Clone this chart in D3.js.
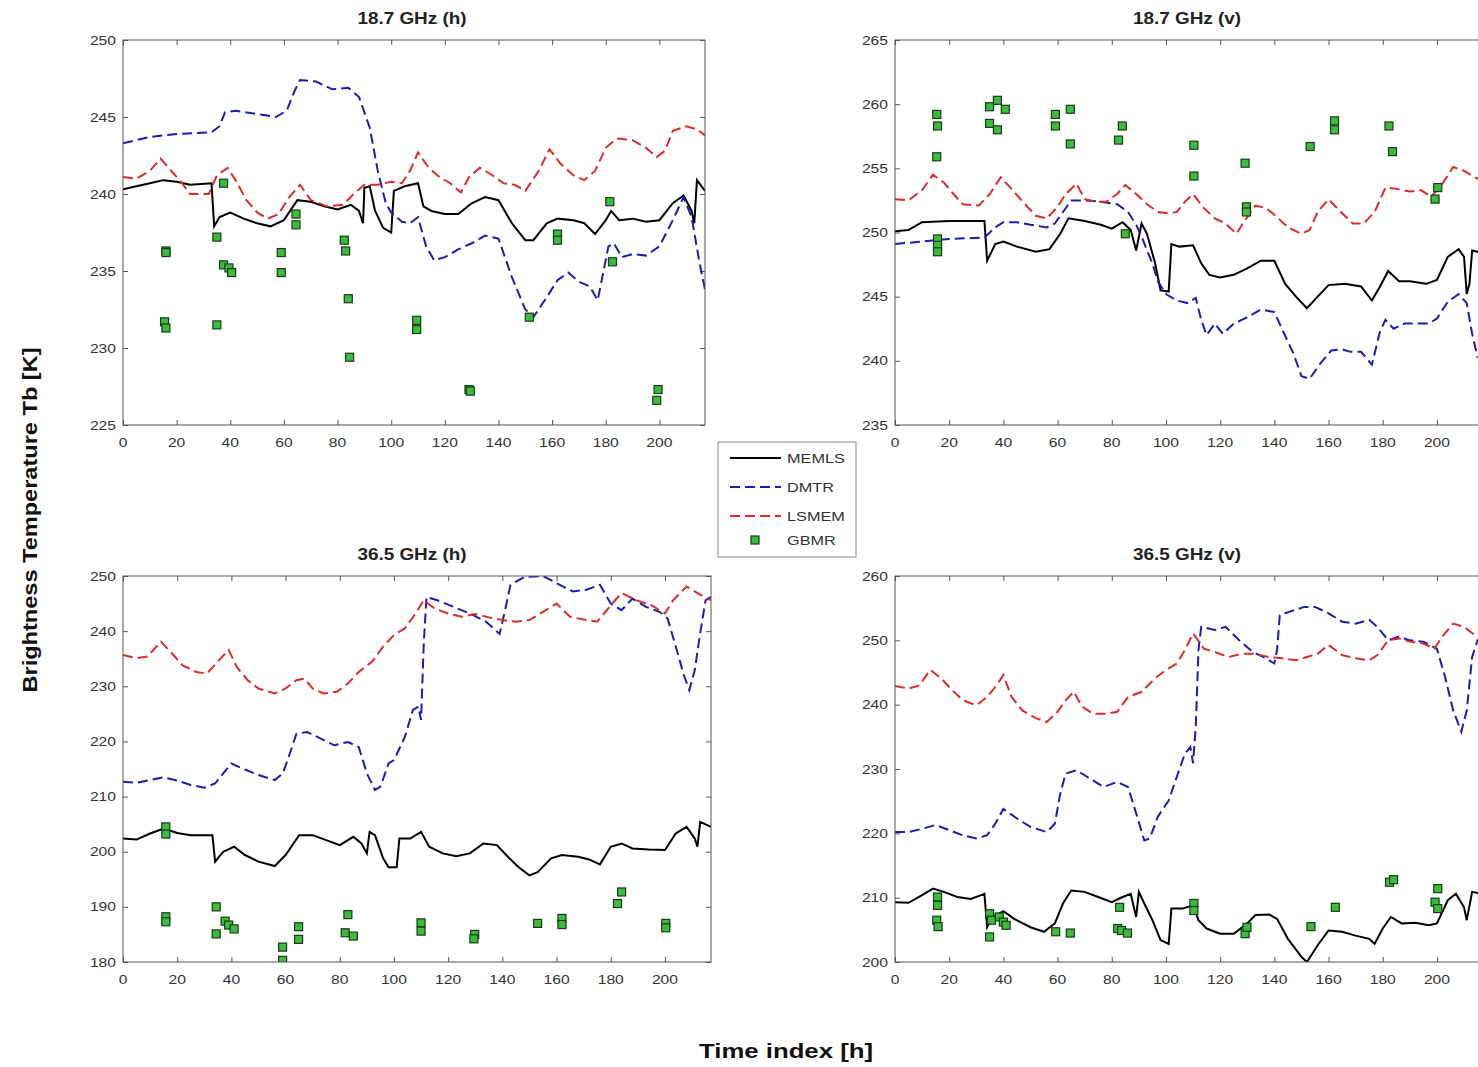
<!doctype html>
<html lang="en">
<head>
  <meta charset="utf-8">
  <title>Brightness temperature, four channels</title>
  <style>
    body { margin: 0; background: #fff; }
    svg { display: block; font-family: "Liberation Sans", Arial, sans-serif; }
    .frame { fill: none; stroke: #555; stroke-width: 1; }
    .tick line { stroke: #555; }
    .ticklab { font-size: 12.5px; fill: #333; }
    .title { font-size: 16px; font-weight: bold; fill: #222; }
    .memls { fill: none; stroke: #000; stroke-width: 2; }
    .dmtr { fill: none; stroke: #1c1cb4; stroke-width: 2; stroke-dasharray: 10,5; }
    .lsmem { fill: none; stroke: #dd2a2a; stroke-width: 2; stroke-dasharray: 10,5; }
    .gbmr { fill: #3cbc3c; stroke: #163c16; stroke-width: 1.2; }
  </style>
</head>
<body>
<script src="https://cdn.jsdelivr.net/npm/d3@7"></script>
<script>

// ---- data: [time index h, Tb K] ----
var timeTicks = [0, 20, 40, 60, 80, 100, 120, 140, 160, 180, 200];
var panelTitles = ["18.7 GHz (h)", "18.7 GHz (v)", "36.5 GHz (h)", "36.5 GHz (v)"];
var yTicks187h = [225, 230, 235, 240, 245, 250];
var yTicks187v = [235, 240, 245, 250, 255, 260, 265];
var yTicks365h = [180, 190, 200, 210, 220, 230, 240, 250];
var yTicks365v = [200, 210, 220, 230, 240, 250, 260];

// 18.7 GHz (h)
var memls187h = [[0,240.3],[10,240.7],[15,240.9],[20,240.8],[25,240.6],[33,240.7],[34,237.9],[36,238.5],[40,238.8],[45,238.4],[50,238.1],[55,237.9],[60,238.3],[65,239.6],[70,239.5],[75,239.2],[80,239.0],[85,239.3],[88,238.9],[89.5,238.1],[90,240.4],[92,240.5],[94,238.9],[97,237.8],[100,237.5],[101,240.2],[105,240.5],[110,240.7],[112,239.2],[115,238.9],[120,238.7],[125,238.7],[130,239.4],[135,239.8],[140,239.6],[145,238.1],[150,237.0],[153,237.0],[158,238.1],[162,238.4],[168,238.3],[172,238.1],[176,237.4],[180,238.3],[182,238.9],[185,238.3],[190,238.4],[195,238.2],[200,238.3],[205,239.4],[209,239.9],[212,238.9],[213,238.1],[214,240.9],[217,240.2]];
var dmtr187h = [[0,243.3],[10,243.7],[20,243.9],[33,244.0],[36,244.4],[38,245.3],[42,245.4],[50,245.2],[57,245.0],[61,245.4],[64,246.7],[66,247.4],[72,247.3],[78,246.8],[84,246.9],[88,246.3],[92,244.3],[95,241.5],[98,239.4],[100,238.8],[104,238.2],[107,238.1],[110,238.5],[113,236.6],[116,235.7],[120,235.9],[125,236.4],[130,236.8],[135,237.3],[140,237.1],[145,234.6],[150,232.5],[153,232.0],[158,233.3],[162,234.4],[166,234.9],[170,234.3],[174,234.0],[177,233.1],[181,236.6],[183,236.8],[186,235.9],[190,236.1],[195,236.0],[200,236.6],[205,238.3],[209,239.8],[212,238.5],[215,235.5],[217,233.8]];
var lsmem187h = [[0,241.1],[5,241.0],[10,241.5],[14,242.3],[18,241.5],[22,240.7],[25,240.0],[32,240.0],[35,241.2],[39,241.7],[42,240.9],[46,239.6],[50,238.8],[54,238.4],[58,238.7],[62,239.8],[66,240.6],[70,239.6],[76,239.2],[82,239.3],[86,240.0],[90,240.6],[95,240.6],[100,240.8],[104,240.7],[107,241.5],[110,242.7],[114,241.7],[118,241.1],[122,240.7],[126,240.1],[129,241.1],[133,241.7],[137,241.3],[142,240.7],[146,240.6],[150,240.2],[155,241.5],[159,242.9],[163,242.0],[168,241.2],[172,240.9],[176,241.5],[180,243.0],[184,243.6],[190,243.5],[195,243.0],[199,242.4],[202,242.8],[205,244.1],[210,244.4],[214,244.2],[217,243.8]];
var gbmr187h = [[16,236.3],[16,236.2],[15.5,231.7],[16,231.3],[35,237.2],[35,231.5],[37.5,240.7],[37.5,235.4],[39.5,235.2],[40.5,234.9],[59,236.2],[59,234.9],[64.5,238.7],[64.5,238.0],[82.5,237.0],[83,236.3],[84,233.2],[84.5,229.4],[109.5,231.8],[109.5,231.2],[129,227.3],[129.5,227.2],[151.5,232.0],[162,237.4],[162,237.0],[181.5,239.5],[182.5,235.6],[199.5,227.3],[199,226.6]];

// 18.7 GHz (v)
var memls187v = [[0,250.1],[5,250.2],[10,250.8],[20,250.9],[33,250.9],[34,247.8],[37,249.1],[40,249.3],[45,248.9],[52,248.5],[57,248.7],[61,249.9],[64,251.1],[70,250.9],[76,250.6],[80,250.3],[84,250.8],[87,250.2],[89,248.6],[91,250.7],[93,249.9],[96,247.6],[98,245.5],[101,245.4],[102,249.1],[105,248.9],[110,249.0],[113,247.6],[116,246.7],[120,246.5],[125,246.7],[130,247.2],[135,247.8],[140,247.8],[144,246.0],[148,245.0],[152,244.1],[156,245.0],[160,245.9],[166,246.0],[172,245.8],[176,244.7],[179,245.8],[182,247.0],[186,246.2],[190,246.2],[196,246.0],[200,246.3],[204,248.1],[208,248.7],[210,248.1],[211,245.2],[212,246.0],[213,248.6],[217,248.4]];
var dmtr187v = [[0,249.1],[10,249.3],[20,249.5],[33,249.6],[37,250.4],[40,250.8],[45,250.8],[50,250.6],[56,250.4],[59,250.7],[62,251.6],[65,252.5],[70,252.5],[76,252.4],[82,252.2],[86,251.6],[89,250.6],[91,249.7],[93,248.6],[95,247.6],[97,246.2],[100,245.2],[104,244.7],[108,244.5],[111,244.9],[113,243.2],[115,242.0],[118,242.9],[121,242.1],[125,242.9],[130,243.4],[135,244.0],[140,243.8],[143,242.4],[147,240.6],[150,238.8],[153,238.6],[157,239.8],[161,240.8],[165,240.9],[168,240.7],[172,240.7],[176,239.7],[179,242.3],[181,243.2],[184,242.5],[188,242.9],[192,242.9],[197,242.9],[200,243.3],[204,244.6],[208,245.2],[211,244.5],[213,242.1],[215,240.3],[217,240.0]];
var lsmem187v = [[0,252.6],[5,252.5],[10,253.3],[14,254.5],[18,253.9],[22,252.9],[25,252.2],[31,252.1],[35,253.0],[39,254.3],[43,253.4],[48,252.2],[52,251.3],[56,251.1],[60,252.0],[63,253.0],[67,253.8],[70,252.6],[74,252.4],[78,252.4],[82,253.0],[85,253.7],[89,253.0],[93,252.2],[97,251.6],[101,251.5],[104,251.6],[107,252.4],[110,253.0],[114,251.9],[118,251.1],[122,250.7],[126,249.9],[129,250.9],[133,252.1],[137,251.9],[141,251.2],[145,250.4],[150,249.9],[153,250.2],[156,251.6],[160,252.6],[164,251.7],[169,250.7],[173,250.7],[177,251.6],[181,253.5],[185,253.4],[190,253.2],[194,253.3],[198,252.8],[202,253.8],[206,255.1],[210,254.8],[214,254.3],[217,254.0]];
var gbmr187v = [[15.4,259.2],[15.7,258.3],[15.4,255.9],[15.7,249.5],[15.7,249.0],[15.7,248.5],[34.9,259.8],[37.8,260.3],[40.7,259.6],[34.9,258.5],[37.8,258.0],[59.2,259.2],[59.2,258.3],[64.7,259.6],[64.7,256.9],[83.9,258.3],[82.5,257.2],[85,249.9],[110.3,256.8],[110.3,254.4],[129.2,255.4],[129.7,252.0],[129.7,251.6],[153.2,256.7],[162.2,258.7],[162.2,258.0],[182.3,258.3],[183.6,256.3],[200.3,253.5],[199.3,252.6]];

// 36.5 GHz (h)
var memls365h = [[0,202.4],[5,202.2],[10,203.3],[15,204.2],[20,203.4],[25,203.0],[33,203.0],[34,198.2],[37,200.0],[41,200.9],[45,199.4],[50,198.2],[56,197.4],[60,199.4],[65,203.0],[70,203.0],[75,202.1],[80,201.2],[85,202.7],[88,201.5],[90,199.7],[91,203.6],[93,203.0],[96,198.8],[98,197.2],[101,197.2],[102,202.4],[106,202.4],[110,203.6],[113,200.9],[118,199.7],[123,199.2],[128,199.7],[133,201.5],[138,201.2],[142,199.1],[146,197.2],[150,195.7],[153,196.3],[158,198.8],[162,199.4],[168,199.1],[172,198.6],[176,197.7],[180,200.9],[184,201.5],[188,200.6],[194,200.4],[200,200.3],[204,203.3],[208,204.5],[211,202.4],[212,200.9],[213,205.4],[217,204.5]];
var dmtr365h = [[0,212.7],[5,212.5],[10,213.0],[15,213.5],[20,212.9],[25,212.1],[30,211.6],[34,212.4],[37,214.2],[40,216.0],[45,214.9],[50,213.9],[56,213.0],[59,214.2],[62,218.4],[64,221.4],[68,221.7],[73,220.5],[78,219.3],[83,219.9],[87,219.0],[90,214.2],[93,211.2],[95,211.8],[98,216.0],[100,216.6],[104,220.8],[107,225.7],[109,226.3],[110,223.9],[111,237.8],[112,246.2],[116,245.6],[122,244.4],[128,243.2],[134,241.7],[139,239.5],[141,243.8],[143,248.4],[148,249.8],[155,250.0],[160,248.7],[166,247.2],[171,247.5],[176,248.4],[180,245.0],[184,243.8],[188,245.9],[193,244.4],[198,243.5],[201,242.3],[204,237.2],[207,232.0],[209,229.3],[211,232.9],[213,239.6],[215,245.6],[217,246.2]];
var lsmem365h = [[0,235.7],[5,235.1],[9,235.4],[14,238.1],[18,236.0],[22,233.8],[27,232.6],[31,232.3],[35,234.5],[39,236.6],[42,233.5],[46,231.1],[50,229.6],[56,228.7],[60,229.6],[64,231.1],[67,231.4],[70,229.6],[74,228.7],[79,229.0],[83,230.5],[87,232.6],[92,234.5],[96,237.2],[100,239.3],[104,240.5],[108,243.2],[111,245.6],[115,244.1],[120,243.2],[125,242.6],[130,243.1],[135,242.5],[140,242.0],[145,241.7],[150,242.0],[155,243.5],[160,245.0],[165,242.6],[170,242.1],[175,241.7],[180,244.7],[184,246.9],[190,245.5],[195,244.7],[200,243.2],[203,245.6],[208,248.1],[212,246.9],[217,245.6]];
var gbmr365h = [[15.8,204.5],[15.8,203.2],[15.8,188.2],[15.8,187.3],[34.4,190.0],[34.4,185.1],[37.7,187.4],[39,186.7],[41,186.0],[58.9,182.7],[58.9,180.3],[64.8,186.4],[64.8,184.1],[83,188.6],[82,185.3],[85,184.7],[110,187.1],[110,185.6],[129.8,185.0],[129.5,184.2],[153,187.0],[162,187.9],[162,186.8],[182.5,190.6],[184,192.7],[200.3,187.0],[200.3,186.2]];

// 36.5 GHz (v)
var memls365v = [[0,209.3],[5,209.2],[10,210.4],[14,211.4],[18,210.9],[23,210.1],[28,209.8],[33,210.6],[34,205.4],[36,207.0],[40,207.9],[44,206.7],[50,205.4],[55,204.7],[59,206.0],[62,209.1],[65,211.1],[70,210.9],[75,210.1],[80,209.3],[84,210.1],[87,210.6],[89,207.0],[90,210.9],[92,209.1],[95,206.5],[98,203.4],[101,202.8],[102,208.3],[106,208.3],[110,208.8],[112,206.5],[115,205.2],[120,204.4],[125,204.4],[130,206.0],[133,207.3],[138,207.4],[141,206.7],[145,203.6],[150,200.8],[152,200.0],[156,202.6],[160,204.9],[165,204.7],[170,204.1],[175,203.6],[177,202.8],[180,205.2],[183,207.0],[187,206.0],[192,206.1],[197,205.7],[200,206.0],[204,209.6],[207,210.6],[210,208.5],[211,206.5],[213,210.9],[217,210.6]];
var dmtr365v = [[0,220.2],[5,220.2],[10,220.7],[15,221.3],[20,220.5],[25,219.7],[30,219.2],[34,219.7],[37,221.5],[40,223.8],[45,222.3],[50,221.0],[56,220.2],[59,221.5],[61,226.2],[63,229.3],[67,229.8],[72,228.5],[77,227.2],[82,228.0],[86,227.2],[89,223.1],[92,218.9],[94,219.2],[97,222.6],[101,225.1],[104,228.8],[107,232.4],[109,233.4],[110,230.9],[111,236.6],[112,248.5],[113,252.1],[118,251.6],[122,252.1],[127,250.0],[132,248.2],[136,247.4],[140,246.4],[141,248.5],[142,253.9],[146,254.5],[151,255.2],[155,255.2],[160,254.2],[165,252.9],[170,252.6],[175,253.2],[178,252.1],[182,250.0],[186,250.6],[190,250.0],[195,249.8],[200,248.7],[203,244.3],[206,239.1],[209,235.8],[211,239.1],[213,247.4],[215,250.0],[217,249.5]];
var lsmem365v = [[0,242.9],[5,242.5],[9,243.0],[13,245.4],[17,244.1],[21,242.3],[25,240.7],[30,239.9],[34,241.2],[38,243.3],[40,244.6],[43,241.2],[47,239.1],[52,237.9],[56,237.3],[60,238.9],[63,240.7],[66,242.0],[69,239.7],[73,238.6],[78,238.6],[82,238.9],[86,241.2],[91,242.0],[96,244.1],[100,245.4],[104,246.4],[107,248.5],[110,251.1],[114,248.7],[118,248.2],[123,247.4],[128,247.9],[133,247.9],[138,247.4],[143,247.2],[148,246.9],[152,247.4],[156,247.9],[160,249.3],[165,247.7],[170,247.2],[175,246.9],[178,247.7],[182,250.0],[186,250.3],[190,249.8],[195,249.5],[199,248.7],[202,250.6],[206,252.6],[210,252.1],[214,250.8],[217,250.5]];
var gbmr365v = [[15.7,210.1],[15.7,208.8],[15.4,206.5],[15.9,205.5],[34.9,207.5],[34.9,203.9],[35.6,206.5],[38.5,207.0],[40,206.2],[41,205.7],[59.3,204.7],[64.7,204.5],[82.9,208.5],[82.2,205.2],[83.6,204.9],[85.8,204.5],[110.3,209.1],[110.3,208.0],[129.2,204.4],[129.9,205.4],[153.5,205.5],[162.5,208.5],[182.5,212.4],[184,212.8],[200.3,211.4],[199.3,209.3],[200.3,208.3]];

var legendNames = ["MEMLS", "DMTR", "LSMEM", "GBMR"];

// ---- layout ----
var W = 1478, H = 1067;
var svg = d3.select("body").append("svg").attr("width", W).attr("height", H);

// the picture's lettering is wide; stretch text horizontally by k
function stretch(sel, k) {
  sel.each(function() {
    var w = this.getComputedTextLength();
    d3.select(this).attr("textLength", w * k).attr("lengthAdjust", "spacingAndGlyphs");
  });
}

var panels = [
  {title: panelTitles[0], box: [123, 705, 40, 425], y: [225, 250], yt: yTicks187h, memls: memls187h, dmtr: dmtr187h, lsmem: lsmem187h, gbmr: gbmr187h},
  {title: panelTitles[1], box: [895, 1483, 40, 425], y: [235, 265], yt: yTicks187v, memls: memls187v, dmtr: dmtr187v, lsmem: lsmem187v, gbmr: gbmr187v},
  {title: panelTitles[2], box: [123, 711, 576, 962], y: [180, 250], yt: yTicks365h, memls: memls365h, dmtr: dmtr365h, lsmem: lsmem365h, gbmr: gbmr365h},
  {title: panelTitles[3], box: [895, 1483, 576, 962], y: [200, 260], yt: yTicks365v, memls: memls365v, dmtr: dmtr365v, lsmem: lsmem365v, gbmr: gbmr365v}
];

var defs = svg.append("defs");

panels.forEach(function(p, i) {
  var x0 = p.box[0], x1 = p.box[1], y0 = p.box[2], y1 = p.box[3];
  var x = d3.scaleLinear().domain([0, 217]).range([x0, x1]);
  var y = d3.scaleLinear().domain(p.y).range([y1, y0]);

  defs.append("clipPath").attr("id", "clip" + i)
    .append("rect").attr("x", x0).attr("y", y0).attr("width", x1 - x0).attr("height", y1 - y0);

  var g = svg.append("g");

  // inward ticks on all four sides, MATLAB style
  var tl = 5;
  g.append("g").attr("class", "tick").attr("transform", "translate(0," + y1 + ")")
    .call(d3.axisTop(x).tickValues(timeTicks).tickSize(tl).tickFormat(""))
    .call(function(a) { a.select(".domain").remove(); });
  g.append("g").attr("class", "tick").attr("transform", "translate(0," + y0 + ")")
    .call(d3.axisBottom(x).tickValues(timeTicks).tickSize(tl).tickFormat(""))
    .call(function(a) { a.select(".domain").remove(); });
  g.append("g").attr("class", "tick").attr("transform", "translate(" + x0 + ",0)")
    .call(d3.axisRight(y).tickValues(p.yt).tickSize(tl).tickFormat(""))
    .call(function(a) { a.select(".domain").remove(); });
  g.append("g").attr("class", "tick").attr("transform", "translate(" + x1 + ",0)")
    .call(d3.axisLeft(y).tickValues(p.yt).tickSize(tl).tickFormat(""))
    .call(function(a) { a.select(".domain").remove(); });

  // tick labels
  g.selectAll(".xl").data(timeTicks).enter().append("text")
    .attr("class", "ticklab").attr("text-anchor", "middle")
    .attr("x", function(d) { return x(d); }).attr("y", y1 + 22)
    .text(function(d) { return d; })
    .call(stretch, 1.25);
  g.selectAll(".yl").data(p.yt).enter().append("text")
    .attr("class", "ticklab").attr("text-anchor", "end")
    .attr("x", x0 - 7).attr("y", function(d) { return y(d) + 4.5; })
    .text(function(d) { return d; })
    .call(stretch, 1.25);

  g.append("text").attr("class", "title").attr("text-anchor", "middle")
    .attr("x", i % 2 === 0 ? 412 : 1187).attr("y", y0 - 16)
    .text(p.title)
    .call(stretch, 1.18);

  var line = d3.line().x(function(d) { return x(d[0]); }).y(function(d) { return y(d[1]); });
  var plot = g.append("g").attr("clip-path", "url(#clip" + i + ")");
  plot.append("path").attr("class", "memls").attr("d", line(p.memls));
  plot.append("path").attr("class", "dmtr").attr("d", line(p.dmtr));
  plot.append("path").attr("class", "lsmem").attr("d", line(p.lsmem));
  plot.selectAll(".gbmr").data(p.gbmr).enter().append("rect")
    .attr("class", "gbmr")
    .attr("x", function(d) { return x(d[0]) - 4; })
    .attr("y", function(d) { return y(d[1]) - 4; })
    .attr("width", 8).attr("height", 8);

  g.append("rect").attr("class", "frame")
    .attr("x", x0).attr("y", y0).attr("width", x1 - x0).attr("height", y1 - y0);
});

// legend
var lg = svg.append("g").attr("transform", "translate(718,442)");
lg.append("rect").attr("width", 138).attr("height", 115)
  .attr("fill", "#fff").attr("stroke", "#888").attr("stroke-width", 1);
var ly = [16, 45, 74, 98];
var lcls = ["memls", "dmtr", "lsmem"];
lcls.forEach(function(c, k) {
  lg.append("path").attr("class", c).attr("d", "M12," + ly[k] + "H63");
});
lg.append("rect").attr("class", "gbmr").attr("x", 33).attr("y", ly[3] - 4).attr("width", 8).attr("height", 8);
lg.selectAll(".lt").data(legendNames).enter().append("text")
  .attr("x", 69).attr("y", function(d, k) { return ly[k] + 5; })
  .attr("font-size", 13).attr("fill", "#333")
  .text(function(d) { return d; })
  .call(stretch, 1.25);

// axis titles
svg.append("text").attr("text-anchor", "middle")
  .attr("transform", "translate(37,520) rotate(-90)")
  .attr("font-size", 20).attr("font-weight", "bold").attr("fill", "#111")
  .attr("textLength", 345).attr("lengthAdjust", "spacingAndGlyphs")
  .text("Brightness Temperature Tb [K]");
svg.append("text").attr("text-anchor", "middle")
  .attr("x", 786).attr("y", 1058)
  .attr("font-size", 21).attr("font-weight", "bold").attr("fill", "#111")
  .attr("textLength", 174).attr("lengthAdjust", "spacingAndGlyphs")
  .text("Time index [h]");

</script>
</body>
</html>
